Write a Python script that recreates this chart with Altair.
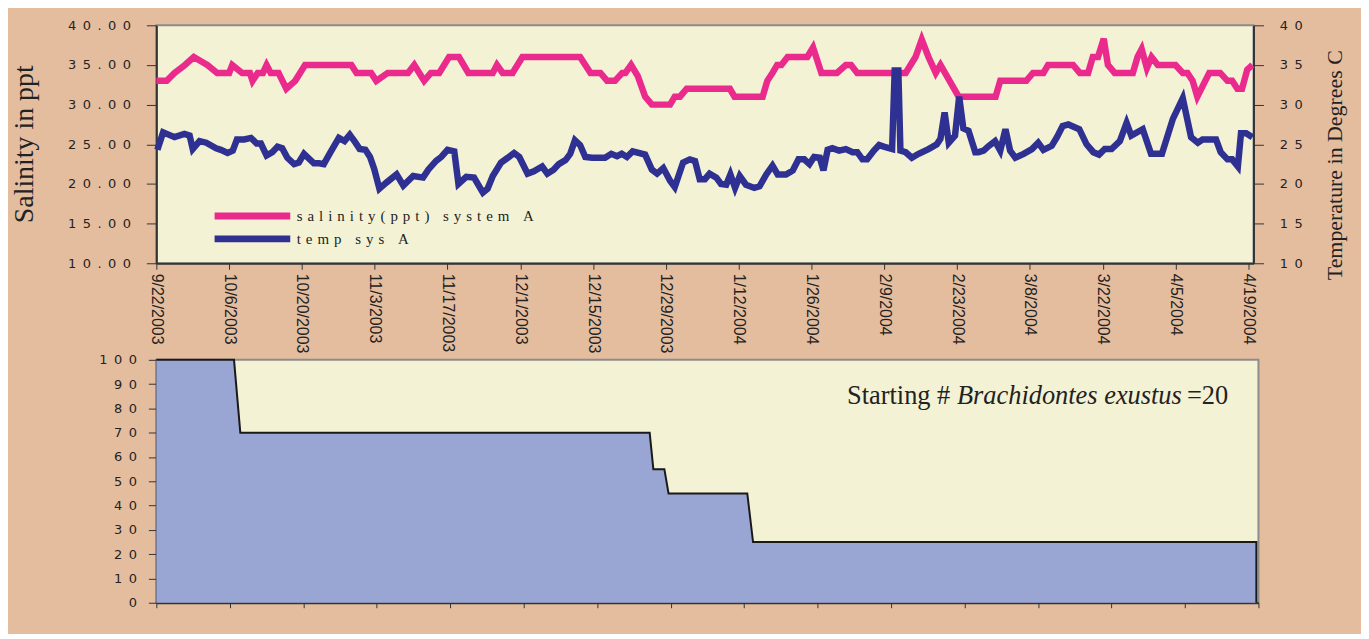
import altair as alt
import pandas as pd

# ---------------- data ----------------
START = "2003-09-22"

series_names = ["salinity(ppt) system A", "temp sys A"]

# day offsets from 9/22/2003 and salinity (ppt)
sal_day = [0, 2, 3.5, 5.5, 7.2, 8.5, 9.8, 11.7, 14, 14.6, 16.5, 18, 18.5, 19.5, 20.5, 21.2,
           22, 23.5, 25, 26.7, 28.6, 37.5, 38.5, 41.3, 42.3, 44.5, 48.4, 49.6, 51.5, 52.8,
           54.4, 56.3, 58.2, 60, 64.7, 65.5, 66.6, 68.5, 70.4, 81.5, 83.5, 85.4, 86.7, 88.2,
           89.6, 90.2, 91.3, 92.6, 94, 95.3, 98.8, 99.7, 100.7, 102, 110.3, 111.2, 116.6,
           117.5, 118.5, 119.4, 120.2, 121.4, 125.2, 126.3, 127.9, 130.9, 132.6, 133.6,
           134.8, 144.1, 146, 147.2, 148.5, 149.9, 150.8, 154.3, 161.4, 162.3, 167.3, 168.6,
           170.6, 171.5, 176.3, 177.6, 179.2, 180.1, 181.1, 182.2, 183, 184.3, 187.8, 188.7,
           189.5, 190.5, 191.4, 192.6, 196, 197.4, 198.3, 199.3, 200.2, 202.5, 204.6, 206,
           206.9, 207.9, 208.8, 209.8, 210.8]
sal_val = [33, 33, 34, 35, 36, 35.5, 35, 34, 34, 35, 34, 34, 33, 34, 34, 35,
           34, 34, 32, 33, 35, 35, 34, 34, 33, 34, 34, 35, 33, 34,
           34, 36, 36, 34, 34, 35, 34, 34, 36, 36, 34, 34, 33, 33,
           34, 34, 35, 33.6, 31, 30, 30, 31, 31, 32, 32, 31, 31,
           33, 34, 35, 35, 36, 36, 37.2, 34, 34, 35, 35,
           34, 34, 36, 38.2, 36, 34, 35, 31, 31, 33, 33, 34,
           34, 35, 35, 34, 34, 36, 36, 38.3, 35, 34, 34, 36,
           37, 34.6, 36, 35, 35, 34, 34, 33, 31, 34, 34, 33,
           33, 32, 32, 34.4, 35]

# day offsets from 9/22/2003 and temperature (deg C)
temp_day = [0.2, 1.3, 3.5, 5.4, 6.4, 7.0, 8.3, 9.6, 11.5, 12.4, 13.7, 14.7, 15.5, 16.9, 18.2,
            19.3, 20.1, 21.2, 22.3, 23.3, 24.2, 25.2, 26.5, 27.4, 28.4, 30.3, 31.3, 32.2,
            33.5, 35.1, 36.2, 37.2, 38.3, 39.1, 40.2, 41.1, 41.9, 42.9, 44.3, 46.2, 47.5,
            49.4, 51.3, 52.3, 53.8, 54.8, 56.0, 57.3, 58.1, 59.6, 61.1, 62.8, 63.7, 64.7,
            66.3, 67.6, 68.8, 69.8, 71.4, 72.6, 74.2, 75.2, 76.4, 77.4, 78.7, 79.6, 80.5,
            81.5, 82.5, 83.8, 86.3, 87.5, 88.6, 89.5, 90.5, 91.6, 94.0, 95.3, 96.3, 97.5,
            98.8, 99.7, 101.3, 102.6, 103.6, 104.5, 105.5, 106.4, 107.7, 108.6, 109.6,
            110.4, 111.3, 112.2, 113.4, 115, 116, 117.3, 118.5, 119.5, 121.1, 122.4, 123.5,
            124.6, 125.6, 126.5, 127.6, 128.3, 129.1, 130, 131.3, 132.6, 133.9, 134.8,
            135.8, 136.7, 138, 139, 139.9, 141.5, 142, 142.7, 143.1, 144.1, 145.3, 146.6,
            148.5, 150.1, 150.8, 151.6, 152.4, 153.6, 154.4, 155.2, 156.2, 157.5, 158.1,
            159.1, 160.1, 161.3, 162.3, 163.3, 164.2, 165.2, 166.8, 168.4, 169.6, 170.6,
            172.2, 173.2, 174.3, 175.4, 177.5, 178.9, 180.2, 181.3, 182.4, 183.7, 185.3,
            186.6, 187.5, 189.7, 191.3, 193.4, 195.5, 197.4, 199, 200.3, 201.2, 203.8,
            204.7, 206, 206.9, 208, 208.6, 209.6, 210.8]
temp_val = [24.3, 26.5, 25.9, 26.3, 26.1, 24.4, 25.4, 25.2, 24.5, 24.3, 23.9, 24.2, 25.6, 25.6, 25.8,
            25.1, 25.1, 23.6, 24.0, 24.7, 24.5, 23.3, 22.5, 22.7, 23.8, 22.6, 22.6, 22.5,
            24.0, 25.8, 25.4, 26.2, 25.2, 24.4, 24.3, 23.4, 21.9, 19.4, 20.2, 21.2, 19.8,
            21.0, 20.8, 21.8, 22.9, 23.4, 24.3, 24.1, 20.0, 20.9, 20.8, 18.9, 19.4, 21.0,
            22.7, 23.3, 23.9, 23.4, 21.3, 21.6, 22.2, 21.3, 21.8, 22.5, 23.0, 23.8, 25.5,
            24.9, 23.4, 23.3, 23.3, 23.8, 23.5, 23.8, 23.4, 24.1, 23.7, 21.8, 21.3, 22.0,
            20.4, 19.6, 22.7, 23.1, 22.9, 20.6, 20.6, 21.3, 20.8, 20.0, 19.9,
            21.2, 19.5, 21.0, 19.9, 19.5, 19.7, 21.2, 22.3, 21.2, 21.2, 21.7, 23.1,
            23.1, 22.5, 23.4, 23.3, 21.7, 24.3, 24.5, 24.2, 24.4, 24.0, 24.0,
            23.1, 23.1, 24.2, 24.9, 24.7, 24.4, 34.3, 34.3, 24.2, 24.0, 23.3, 23.8,
            24.4, 25.0, 25.7, 29.0, 25.2, 26.1, 31.0, 27.0, 26.7, 24.0, 24.0,
            24.2, 24.8, 25.4, 24.2, 26.9, 24.2, 23.3, 23.8, 24.4, 25.2, 24.3,
            24.8, 25.9, 27.3, 27.5, 26.9, 25.0, 24.0, 23.7, 24.4, 24.4, 25.4,
            27.7, 26.1, 26.9, 23.8, 23.8, 28.2, 30.8, 25.9, 25.2, 25.6, 25.6,
            24.0, 23.1, 23.1, 22.2, 26.4, 26.4, 25.9]

# survival (% of starting Brachidontes exustus)
surv_day = [0, 14.8, 16.0, 94.0, 94.7, 96.8, 97.6, 112.6, 113.7, 209.6, 209.6]
surv_val = [100, 100, 70, 70, 55, 55, 45, 45, 25, 25, 0]

x_tick_labels = ["9/22/2003", "10/6/2003", "10/20/2003", "11/3/2003", "11/17/2003",
                 "12/1/2003", "12/15/2003", "12/29/2003", "1/12/2004", "1/26/2004",
                 "2/9/2004", "2/23/2004", "3/8/2004", "3/22/2004", "4/5/2004", "4/19/2004"]
sal_ticks = [10, 15, 20, 25, 30, 35, 40]
temp_ticks = [10, 15, 20, 25, 30, 35, 40]
surv_ticks = [0, 10, 20, 30, 40, 50, 60, 70, 80, 90, 100]

note_regular = "Starting #\u00a0"
note_italic = "Brachidontes exustus"
note_end = "\u00a0=20"
note_day = 131.6
note_val = 81.7

# ---------------- styling ----------------
TAN = "#E4BD9F"
CREAM = "#F4F2D5"
PINK = "#EB2A8D"
NAVY = "#2E3192"
AREA = "#99A5D2"
INK = "#222222"
AXIS = "#333333"

start = pd.Timestamp(START)


def to_dates(days):
    return [start + pd.Timedelta(days=float(d)) for d in days]


def dt(s):
    t = pd.to_datetime(s, format="%m/%d/%Y")
    return alt.DateTime(year=t.year, month=t.month, date=t.day)


tick_dt = [dt(s) for s in x_tick_labels]

sal_df = pd.DataFrame({"date": to_dates(sal_day), "val": sal_val, "series": series_names[0]})
temp_df = pd.DataFrame({"date": to_dates(temp_day), "val": temp_val, "series": series_names[1]})
surv_df = pd.DataFrame({"date": to_dates(surv_day), "pct": surv_val})
note_df = pd.DataFrame({"date": to_dates([note_day]), "pct": [note_val]})

spaced = "replace({v}, regexp('(.)(?=.)', 'g'), '$1\u2002')"

top_x = alt.X(
    "date:T",
    scale=alt.Scale(domain=[dt("9/22/2003"), dt("4/20/2004")]),
    axis=alt.Axis(values=tick_dt, format="%-m/%-d/%Y", labelAngle=90,
                  labelFont="Liberation Sans Narrow, Liberation Sans", labelFontSize=16,
                  labelColor=INK, tickSize=6, tickColor=AXIS, labelPadding=4,
                  domainColor=AXIS, domainWidth=2, grid=False, title=None,
                  labelOverlap=False),
)

color = alt.Color(
    "series:N",
    scale=alt.Scale(domain=series_names, range=[PINK, NAVY]),
    legend=alt.Legend(title=None, orient="none", legendX=88, legendY=183,
                      symbolType="M-7.6,0H7.6", symbolSize=100, symbolStrokeWidth=7,
                      labelFont="Liberation Serif", labelFontSize=15, labelColor=INK,
                      labelOffset=36, rowPadding=-9, padding=0, labelLimit=500,
                      labelExpr="replace(datum.label, regexp('(.)(?=.)', 'g'), '$1\u2004')"),
)

sal_line = alt.Chart(sal_df).mark_line(strokeWidth=6.5, strokeJoin="miter").encode(
    x=top_x,
    y=alt.Y("val:Q", scale=alt.Scale(domain=[10, 40]),
            axis=alt.Axis(values=sal_ticks, labelExpr=spaced.format(v="format(datum.value, '.2f')"),
                          labelFont="DejaVu Sans", labelFontSize=13, labelColor=INK,
                          tickSize=10, tickColor=AXIS, labelPadding=16,
                          domainColor=AXIS, domainWidth=2, grid=False,
                          title="Salinity in ppt", titleFont="Liberation Serif",
                          titleFontSize=28, titleFontWeight="normal", titleColor=INK,
                          titleAngle=270, titleAlign="center", titleBaseline="middle",
                          titleX=-132, titleY=119)),
    color=color,
)

temp_line = alt.Chart(temp_df).mark_line(strokeWidth=6.5, strokeJoin="miter").encode(
    x=top_x,
    y=alt.Y("val:Q", scale=alt.Scale(domain=[10, 40]),
            axis=alt.Axis(orient="right", values=temp_ticks,
                          labelExpr=spaced.format(v="format(datum.value, 'd')"),
                          labelFont="DejaVu Sans", labelFontSize=13, labelColor=INK,
                          tickSize=10, tickColor=AXIS, labelPadding=16,
                          domainColor=AXIS, domainWidth=2, grid=False,
                          title="Temperature in Degrees C", titleFont="Liberation Serif",
                          titleFontSize=22, titleFontWeight="normal", titleColor=INK,
                          titleAngle=270, titleAlign="center", titleBaseline="middle",
                          titleX=81, titleY=140)),
    color=color,
)

top = alt.layer(sal_line, temp_line).resolve_scale(y="independent").properties(width=1102, height=239)

bot_x = alt.X(
    "date:T",
    scale=alt.Scale(domain=[dt("9/22/2003"), dt("4/19/2004")]),
    axis=alt.Axis(values=tick_dt, labels=False, tickSize=5, tickColor=AXIS,
                  domainColor=AXIS, domainWidth=2, grid=False, title=None),
)
bot_y = alt.Y(
    "pct:Q",
    scale=alt.Scale(domain=[0, 100]),
    stack=None,
    axis=alt.Axis(values=surv_ticks, labelExpr=spaced.format(v="format(datum.value, 'd')"),
                  labelFont="DejaVu Sans", labelFontSize=13, labelColor=INK,
                  tickSize=8, tickColor=AXIS, labelPadding=12,
                  domainColor=AXIS, domainWidth=2, grid=False, title=None),
)

area = alt.Chart(surv_df).mark_area(
    color=AREA, opacity=1, interpolate="linear",
    line={"color": "#1A1A1A", "strokeWidth": 2},
).encode(x=bot_x, y=bot_y)

FS = 26.5
note1 = alt.Chart(note_df).mark_text(text=note_regular, font="Liberation Serif", fontSize=FS,
                                     align="left", baseline="alphabetic", color=INK).encode(x=bot_x, y=bot_y)
note2 = alt.Chart(note_df).mark_text(text=note_italic, font="Liberation Serif", fontSize=FS,
                                     fontStyle="italic", align="left", baseline="alphabetic",
                                     color=INK, dx=4.167 * FS).encode(x=bot_x, y=bot_y)
note3 = alt.Chart(note_df).mark_text(text=note_end, font="Liberation Serif", fontSize=FS,
                                     align="left", baseline="alphabetic", color=INK,
                                     dx=(4.167 + 5.333 + 0.25 + 2.944) * FS + 5).encode(x=bot_x, y=bot_y)

bottom = alt.layer(area, note1, note2, note3).properties(width=1107, height=244)

chart = alt.vconcat(top, bottom, spacing=97, bounds="flush").resolve_scale(
    color="independent").resolve_legend(color="independent").properties(
    padding={"left": 2, "top": 9, "right": 15, "bottom": 22},
    background=TAN,
).configure_view(fill=CREAM, stroke="#8C8C8C", strokeWidth=2)

chart.save("out.html", embed_options={"renderer": "svg", "actions": False})
